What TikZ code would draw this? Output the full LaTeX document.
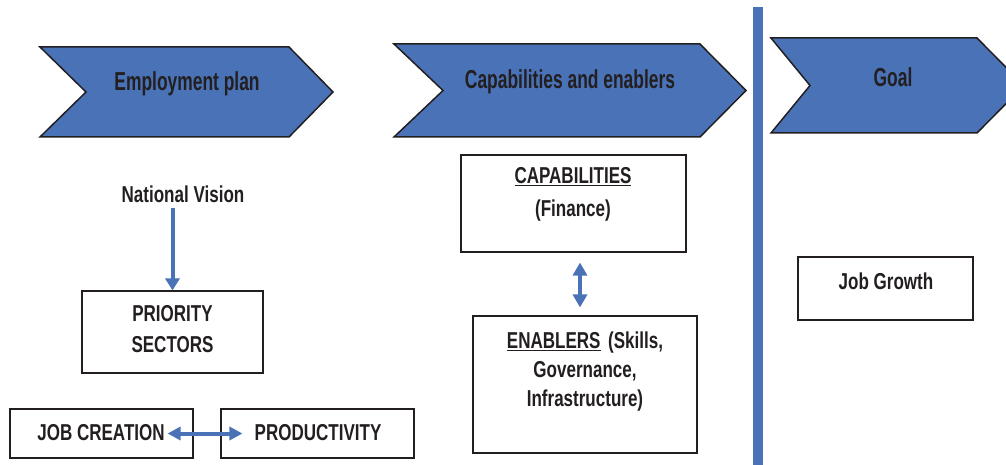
\documentclass[tikz,border=0pt]{standalone}
\usepackage{fontspec}
\setmainfont{Liberation Sans}[FakeStretch=0.74]
\newfontfamily\titlefont{Liberation Sans}[FakeStretch=0.67]
\usetikzlibrary{arrows.meta}
\definecolor{chevblue}{RGB}{73,114,183}
\definecolor{inkc}{RGB}{35,31,32}
\begin{document}
\begin{tikzpicture}[x=1pt,y=-1pt,
  chev/.style={fill=chevblue,draw=inkc,line width=1.5pt,line join=miter},
  title/.style={font=\titlefont\fontsize{26}{28}\selectfont\bfseries,text=inkc,inner sep=0pt},
  lbl/.style={font=\fontsize{23}{29}\selectfont\bfseries,text=inkc,align=center,inner sep=0pt},
  box/.style={draw=inkc,line width=1.1pt,fill=white,inner sep=0pt},
  barrow/.style={draw=chevblue,line width=4pt},
]
\useasboundingbox (0,0) rectangle (1006,465);
\clip (0,0) rectangle (1006,465);
% chevrons
\draw[chev] (40,47) -- (289,47) -- (333,92) -- (289,137) -- (40,137) -- (86,92) -- cycle;
\draw[chev] (394,44) -- (700,44) -- (746,90.5) -- (700,137) -- (394,137) -- (443,90.5) -- cycle;
\draw[chev] (771,38) -- (977,38) -- (1024,85.5) -- (977,133) -- (771,133) -- (810,85.5) -- cycle;
\node[title] (t1) at (187,84) {Employment plan};
\node[title] (t2) at (570,82) {Capabilities and enablers};
\node[title] (t3) at (893,77) {Goal};
% vertical bar
\fill[chevblue] (753,7) rectangle (763,470);
% left column
\node[lbl] (nv) at (183,194) {National Vision};
\node[box,minimum width=181pt,minimum height=82pt] (ps) at (172.5,332) {};
\node[lbl,font=\fontsize{23}{31}\selectfont\bfseries] (pst) at (172.5,329) {PRIORITY\\SECTORS};
\node[box,minimum width=183pt,minimum height=49pt] (jc) at (101.5,433.5) {};
\node[lbl] (jct) at (101,433) {JOB CREATION};
\node[box,minimum width=193pt,minimum height=49pt] (pr) at (317.5,433.5) {};
\node[lbl] (prt) at (318,433) {PRODUCTIVITY};
\draw[barrow,-{Triangle[width=14pt,length=12pt]}] (nv.south -| ps.north) ++(0,5) coordinate (a0) -- (ps.north);
\draw[barrow,{Triangle[width=13pt,length=13pt]}-{Triangle[width=13pt,length=13pt]}]
  ([xshift=-26pt]jc.east) -- ([xshift=22pt]pr.west);
% middle column
\node[box,minimum width=225pt,minimum height=97pt] (cap) at (573.5,203.5) {};
\node[lbl,font=\fontsize{23}{33}\selectfont\bfseries] (capt) at (573,194.5) {\underline{CAPABILITIES}\\(Finance)};
\node[box,minimum width=224pt,minimum height=137pt] (en) at (585,384.5) {};
\node[lbl,text width=215pt] (ent) at (585,372) {\underline{ENABLERS} (Skills,\\Governance,\\Infrastructure)};
\draw[barrow,{Triangle[width=14pt,length=13pt]}-{Triangle[width=14pt,length=13pt]}]
  ([yshift=-10pt]cap.south -| 580,0) -- ([yshift=8pt]en.north -| 580,0);
% goal column
\node[box,minimum width=175pt,minimum height=63pt] (jg) at (885.5,288.5) {};
\node[lbl] (jgt) at (886,281) {Job Growth};
\end{tikzpicture}
\end{document}
